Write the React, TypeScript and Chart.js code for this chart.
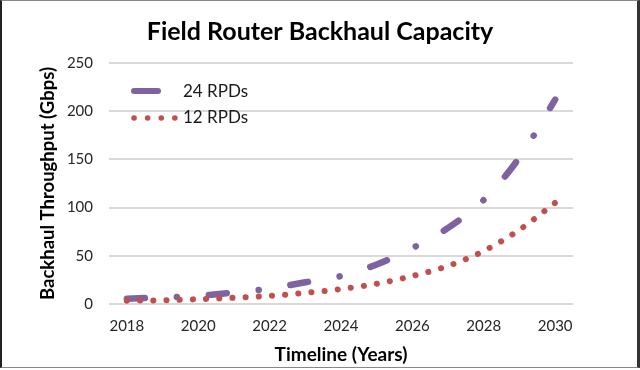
import React, { useEffect, useRef } from "react";
import { Chart, registerables } from "chart.js";

Chart.register(...registerables);

const chartTitle = "Field Router Backhaul Capacity";
const xAxisTitle = "Timeline (Years)";
const yAxisTitle = "Backhaul Throughput (Gbps)";
const years = ["2018", "2019", "2020", "2021", "2022", "2023", "2024", "2025", "2026", "2027", "2028", "2029", "2030"];
const seriesNames = ["24 RPDs", "12 RPDs"];
const rpd24 = [5.5, 6.8, 8.5, 12, 16, 22.5, 29, 41, 58, 79, 108, 152, 212];
const rpd12 = [3.5, 3.8, 5, 6.5, 8.5, 11.5, 15.5, 21, 29, 39.5, 55, 77, 105];
const yMin = 0;
const yMax = 250;
const yStep = 50;

const PURPLE = "#7f63a1";
const RED = "#c0504d";
const FONT = "Lato, 'Open Sans', sans-serif";

const legendPlugin = {
  id: "insideLegend",
  afterDraw(chart: any) {
    const { ctx, chartArea } = chart;
    const x0 = chartArea.left + 25;
    const y1 = chartArea.top + 28;
    const y2 = chartArea.top + 55;
    ctx.save();
    ctx.lineCap = "round";
    ctx.strokeStyle = PURPLE;
    ctx.lineWidth = 6;
    ctx.setLineDash([]);
    ctx.beginPath();
    ctx.moveTo(x0, y1);
    ctx.lineTo(x0 + 24, y1);
    ctx.stroke();
    ctx.strokeStyle = RED;
    ctx.lineWidth = 5.5;
    ctx.setLineDash([0.1, 13.5]);
    ctx.beginPath();
    ctx.moveTo(x0, y2);
    ctx.lineTo(x0 + 43, y2);
    ctx.stroke();
    ctx.setLineDash([]);
    ctx.fillStyle = "#1a1a1a";
    ctx.font = `17px ${FONT}`;
    ctx.textBaseline = "middle";
    ctx.textAlign = "left";
    ctx.fillText(seriesNames[0], x0 + 49, y1 + 1);
    ctx.fillText(seriesNames[1], x0 + 49, y2);
    ctx.restore();
  },
};

export default function App() {
  const ref = useRef<HTMLCanvasElement | null>(null);

  useEffect(() => {
    if (!ref.current) return;
    const chart = new Chart(ref.current, {
      type: "line",
      data: {
        labels: years,
        datasets: [
          {
            label: seriesNames[0],
            data: rpd24,
            borderColor: PURPLE,
            backgroundColor: PURPLE,
            borderWidth: 6.5,
            borderDash: [18, 32, 0.1, 32],
            borderCapStyle: "round",
            pointRadius: 0,
            tension: 0.33,
            fill: false,
            order: 2,
          },
          {
            label: seriesNames[1],
            data: rpd12,
            borderColor: RED,
            backgroundColor: RED,
            borderWidth: 6,
            borderDash: [0.1, 13.1],
            borderCapStyle: "round",
            pointRadius: 0,
            tension: 0.33,
            fill: false,
            order: 1,
          },
        ],
      },
      options: {
        animation: false,
        responsive: false,
        maintainAspectRatio: false,
        layout: { padding: { top: 10, left: 34, right: 34, bottom: 3.6 } },
        plugins: {
          legend: { display: false },
          tooltip: { enabled: false },
          title: {
            display: true,
            text: chartTitle,
            color: "#000",
            font: { family: FONT, size: 25, weight: "bold" },
            padding: { top: 7, bottom: 16 },
          },
        },
        scales: {
          x: {
            type: "category",
            offset: true,
            grid: { display: false, drawTicks: false },
            border: { display: false },
            ticks: {
              autoSkip: false,
              maxRotation: 0,
              padding: 13,
              color: "#262626",
              font: { family: FONT, size: 15 },
              callback: (_v: any, i: number) => (i % 2 === 0 ? years[i] : ""),
            },
            title: {
              display: true,
              text: xAxisTitle,
              color: "#000",
              font: { family: FONT, size: 19, weight: "bold" },
              padding: { top: 0, bottom: 0 },
            },
            afterFit: (s: any) => {
              s.height = 62.4;
            },
          },
          y: {
            min: yMin,
            max: yMax,
            grid: { color: "#d9d9d9", lineWidth: 2, drawTicks: false },
            border: { display: false },
            ticks: {
              stepSize: yStep,
              padding: 16,
              color: "#262626",
              font: { family: FONT, size: 15 },
            },
            title: {
              display: true,
              text: yAxisTitle,
              color: "#000",
              font: { family: FONT, size: 18.5, weight: "bold" },
              padding: { top: 3, bottom: 0 },
            },
            afterFit: (s: any) => {
              s.width = 75;
            },
          },
          yRight: {
            position: "right",
            display: true,
            grid: { display: false, drawTicks: false },
            border: { display: false },
            ticks: { display: false },
            afterFit: (s: any) => {
              s.width = 33;
            },
          },
        },
      },
      plugins: [legendPlugin],
    });
    return () => chart.destroy();
  }, []);

  return (
    <div style={{ position: "fixed", left: 0, top: 0, width: 640, height: 370, background: "#fff" }}>
      <canvas ref={ref} width={640} height={370} style={{ display: "block", width: 640, height: 370 }} />
      <div
        style={{
          position: "absolute",
          left: 0,
          top: 0,
          width: 640,
          height: 368,
          boxSizing: "border-box",
          borderTop: "1px solid #888",
          borderLeft: "2px solid #222",
          borderRight: "3px solid #333",
          borderBottom: "1px solid #888",
          pointerEvents: "none",
        }}
      />
    </div>
  );
}
